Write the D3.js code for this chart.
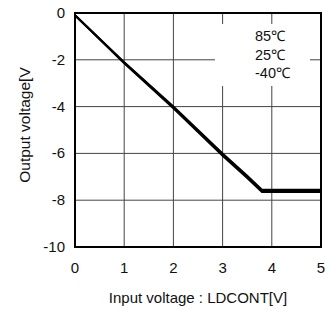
<!DOCTYPE html>
<html>
<head>
<meta charset="utf-8">
<script src="https://cdn.jsdelivr.net/npm/d3@7"></script>
<style>
body { margin: 0; background: #fff; }
text { font-family: "Liberation Sans", Arial, sans-serif; fill: #111; }
</style>
</head>
<body>
<div id="chart"></div>
<script>
// Data
const xTicks = [0, 1, 2, 3, 4, 5];
const yTicks = [0, -2, -4, -6, -8, -10];
const legendLabels = ["85\u2103", "25\u2103", "-40\u2103"];
const inputV = [0, 1, 2, 3, 3.5, 3.8, 5];
const out85 = [-0.1, -2.1, -4.0, -6.0, -6.95, -7.55, -7.55];
const out25 = [-0.1, -2.12, -4.04, -6.05, -7.0, -7.6, -7.6];
const outM40 = [-0.1, -2.15, -4.07, -6.1, -7.05, -7.65, -7.65];

const width = 330, height = 309;
const plotLeft = 75, plotRight = 321, plotTop = 13, plotBottom = 247;

const svg = d3.select('#chart').append('svg')
	.attr('width', width)
	.attr('height', height);

const xScale = d3.scaleLinear().domain([0, 5]).range([plotLeft, plotRight]);
const yScale = d3.scaleLinear().domain([-10, 0]).range([plotBottom, plotTop]);

// grid lines
svg.append('g')
	.selectAll('line')
	.data(xTicks.slice(1, -1))
	.enter().append('line')
		.attr('x1', d => xScale(d)).attr('x2', d => xScale(d))
		.attr('y1', plotTop).attr('y2', plotBottom)
		.attr('stroke', '#444').attr('stroke-width', 1);

svg.append('g')
	.selectAll('line')
	.data(yTicks.slice(1, -1))
	.enter().append('line')
		.attr('x1', plotLeft).attr('x2', plotRight)
		.attr('y1', d => yScale(d)).attr('y2', d => yScale(d))
		.attr('stroke', '#444').attr('stroke-width', 1);

// white box behind legend
svg.append('rect')
	.attr('x', 215).attr('y', 24)
	.attr('width', 95).attr('height', 62)
	.attr('fill', '#fff');

// legend text
svg.append('g')
	.selectAll('text')
	.data(legendLabels)
	.enter().append('text')
		.attr('x', 255)
		.attr('y', (d, i) => 41 + i * 18.5)
		.attr('font-size', 14.5)
		.text(d => d);

// curves
const line = d3.line()
	.x((d, i) => xScale(inputV[i]))
	.y(d => yScale(d));

[out85, out25, outM40].forEach(s => {
	svg.append('path')
		.attr('d', line(s))
		.attr('fill', 'none')
		.attr('stroke', '#000')
		.attr('stroke-width', 2);
});

// frame
svg.append('rect')
	.attr('x', plotLeft).attr('y', plotTop)
	.attr('width', plotRight - plotLeft).attr('height', plotBottom - plotTop)
	.attr('fill', 'none')
	.attr('stroke', '#000')
	.attr('stroke-width', 2);

// tick labels
svg.append('g')
	.selectAll('text')
	.data(xTicks)
	.enter().append('text')
		.attr('x', d => xScale(d))
		.attr('y', 273)
		.attr('text-anchor', 'middle')
		.attr('font-size', 15)
		.text(d => d);

svg.append('g')
	.selectAll('text')
	.data(yTicks)
	.enter().append('text')
		.attr('x', 65)
		.attr('y', d => yScale(d) + 5)
		.attr('text-anchor', 'end')
		.attr('font-size', 15)
		.text(d => d);

// axis labels
svg.append('text')
	.attr('x', 198)
	.attr('y', 303)
	.attr('text-anchor', 'middle')
	.attr('font-size', 15)
	.text('Input voltage : LDCONT[V]');

svg.append('text')
	.attr('transform', 'translate(30,125) rotate(-90)')
	.attr('text-anchor', 'middle')
	.attr('font-size', 15.5)
	.text('Output voltage[V');
</script>
</body>
</html>
